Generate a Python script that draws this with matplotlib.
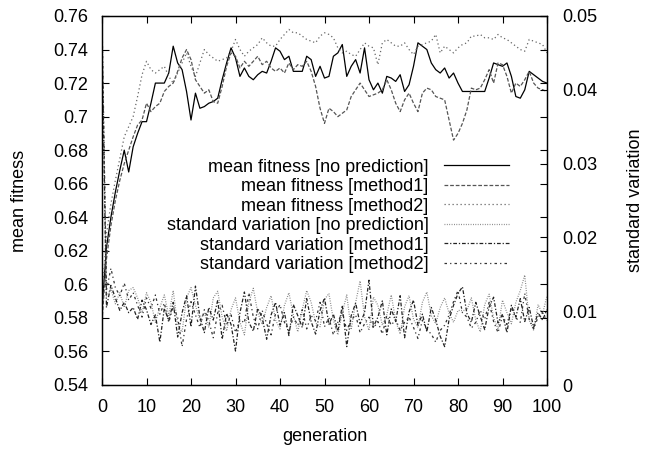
import numpy as np
import matplotlib
matplotlib.use('Agg')
import matplotlib.pyplot as plt

# generations 0..100
generation = np.arange(101)

fit_none = [0.585, 0.622, 0.640, 0.655, 0.668, 0.680, 0.667, 0.682, 0.690, 0.697,
            0.697, 0.708, 0.720, 0.720, 0.720, 0.726, 0.742, 0.732, 0.728, 0.715,
            0.698, 0.714, 0.705, 0.706, 0.708, 0.709, 0.711, 0.722, 0.732, 0.741,
            0.735, 0.724, 0.729, 0.724, 0.722, 0.725, 0.727, 0.726, 0.733, 0.741,
            0.739, 0.734, 0.736, 0.727, 0.727, 0.727, 0.736, 0.734, 0.724, 0.730,
            0.723, 0.724, 0.736, 0.738, 0.743, 0.724, 0.730, 0.734, 0.726, 0.741,
            0.722, 0.716, 0.720, 0.714, 0.724, 0.723, 0.721, 0.725, 0.715, 0.719,
            0.730, 0.744, 0.742, 0.740, 0.732, 0.728, 0.726, 0.729, 0.723, 0.726,
            0.720, 0.715, 0.715, 0.715, 0.715, 0.715, 0.715, 0.723, 0.732, 0.731,
            0.730, 0.732, 0.724, 0.712, 0.711, 0.716, 0.727, 0.725, 0.723, 0.721,
            0.720]

fit_m1 = [0.578, 0.615, 0.635, 0.650, 0.662, 0.672, 0.680, 0.688, 0.695, 0.698,
          0.708, 0.703, 0.706, 0.708, 0.715, 0.718, 0.720, 0.727, 0.735, 0.740,
          0.734, 0.722, 0.718, 0.714, 0.716, 0.709, 0.708, 0.718, 0.730, 0.738,
          0.736, 0.729, 0.733, 0.730, 0.733, 0.736, 0.731, 0.733, 0.729, 0.727,
          0.729, 0.726, 0.732, 0.728, 0.731, 0.730, 0.733, 0.727, 0.718, 0.705,
          0.696, 0.705, 0.703, 0.700, 0.702, 0.704, 0.712, 0.716, 0.720, 0.716,
          0.712, 0.713, 0.714, 0.716, 0.722, 0.716, 0.708, 0.703, 0.710, 0.714,
          0.708, 0.703, 0.714, 0.717, 0.716, 0.712, 0.711, 0.710, 0.698, 0.686,
          0.690, 0.696, 0.704, 0.717, 0.716, 0.717, 0.722, 0.728, 0.720, 0.732,
          0.731, 0.724, 0.714, 0.720, 0.718, 0.722, 0.727, 0.720, 0.717, 0.716,
          0.715]

fit_m2 = [0.590, 0.630, 0.648, 0.662, 0.675, 0.688, 0.694, 0.700, 0.712, 0.725,
          0.733, 0.728, 0.726, 0.728, 0.730, 0.724, 0.720, 0.726, 0.732, 0.738,
          0.730, 0.724, 0.732, 0.740, 0.737, 0.735, 0.733, 0.734, 0.735, 0.739,
          0.746, 0.740, 0.736, 0.739, 0.741, 0.743, 0.747, 0.744, 0.742, 0.742,
          0.746, 0.749, 0.752, 0.750, 0.750, 0.748, 0.746, 0.745, 0.744, 0.748,
          0.750, 0.749, 0.747, 0.741, 0.738, 0.739, 0.737, 0.736, 0.740, 0.744,
          0.742, 0.741, 0.731, 0.744, 0.746, 0.744, 0.742, 0.742, 0.744, 0.740,
          0.737, 0.742, 0.743, 0.744, 0.745, 0.749, 0.738, 0.742, 0.740, 0.738,
          0.741, 0.743, 0.744, 0.748, 0.748, 0.749, 0.747, 0.747, 0.746, 0.749,
          0.747, 0.746, 0.744, 0.742, 0.740, 0.739, 0.746, 0.745, 0.744, 0.743,
          0.738]

std_none = [0.049, 0.0120, 0.0130, 0.0110, 0.0125, 0.0105, 0.0128, 0.0132, 0.0118, 0.0098,
            0.0125, 0.0112, 0.0085, 0.0105, 0.0122, 0.0094, 0.0128, 0.0081, 0.0072, 0.0118,
            0.0132, 0.0108, 0.0088, 0.0098, 0.0078, 0.0118, 0.0127, 0.0092, 0.0073, 0.0102,
            0.0118, 0.0085, 0.0068, 0.0112, 0.0131, 0.0098, 0.0082, 0.0105, 0.0121, 0.0088,
            0.0076, 0.0108, 0.0125, 0.0095, 0.0072, 0.0102, 0.0128, 0.0112, 0.0084, 0.0079,
            0.0116, 0.0124, 0.0088, 0.0068, 0.0098, 0.0122, 0.0075, 0.0112, 0.0141, 0.0092,
            0.0074, 0.0119, 0.0108, 0.0081, 0.0095, 0.0122, 0.0087, 0.0069, 0.0106, 0.0121,
            0.0089, 0.0078, 0.0112, 0.0126, 0.0094, 0.0083, 0.0105, 0.0118, 0.0097, 0.0085,
            0.0101, 0.0101, 0.0101, 0.0118, 0.0088, 0.0072, 0.0109, 0.0123, 0.0091, 0.0076,
            0.0115, 0.0098, 0.0083, 0.0112, 0.0128, 0.0149, 0.0088, 0.0074, 0.0109, 0.0096,
            0.0121]

std_m1 = [0.047, 0.0105, 0.0135, 0.0118, 0.0101, 0.0112, 0.0098, 0.0105, 0.0089, 0.0115,
          0.0102, 0.0082, 0.0095, 0.0058, 0.0104, 0.0087, 0.0112, 0.0065, 0.0098, 0.0121,
          0.0079, 0.0134, 0.0092, 0.0071, 0.0105, 0.0088, 0.0115, 0.0062, 0.0097, 0.0082,
          0.0046, 0.0098, 0.0126, 0.0085, 0.0073, 0.0104, 0.0091, 0.0062, 0.0095, 0.0112,
          0.0081, 0.0098, 0.0067, 0.0109, 0.0094, 0.0078, 0.0117, 0.0086, 0.0069, 0.0101,
          0.0118, 0.0082, 0.0096, 0.0073, 0.0108, 0.0052, 0.0094, 0.0111, 0.0083, 0.0098,
          0.0142, 0.0079, 0.0092, 0.0114, 0.0068, 0.0103, 0.0086, 0.0121, 0.0064, 0.0099,
          0.0115, 0.0081, 0.0096, 0.0072, 0.0105, 0.0088, 0.0066, 0.0052, 0.0089, 0.0108,
          0.0124, 0.0133, 0.0097, 0.0085, 0.0112, 0.0093, 0.0075, 0.0106, 0.0119, 0.0084,
          0.0096, 0.0071, 0.0108, 0.0092, 0.0117, 0.0086, 0.0105, 0.0078, 0.0098, 0.0088,
          0.0102]

std_m2 = [0.050, 0.0128, 0.0158, 0.0132, 0.0121, 0.0138, 0.0115, 0.0125, 0.0108, 0.0092,
          0.0118, 0.0104, 0.0122, 0.0096, 0.0111, 0.0085, 0.0106, 0.0092, 0.0052, 0.0089,
          0.0113, 0.0095, 0.0078, 0.0102, 0.0087, 0.0064, 0.0098, 0.0108, 0.0082, 0.0095,
          0.0071, 0.0089, 0.0084, 0.0125, 0.0092, 0.0076, 0.0101, 0.0083, 0.0068, 0.0097,
          0.0109, 0.0085, 0.0073, 0.0092, 0.0081, 0.0102, 0.0076, 0.0094, 0.0087, 0.0112,
          0.0079, 0.0091, 0.0068, 0.0085, 0.0099, 0.0074, 0.0088, 0.0095, 0.0071, 0.0083,
          0.0092, 0.0077, 0.0086, 0.0069, 0.0094, 0.0081, 0.0089, 0.0074, 0.0085, 0.0092,
          0.0078, 0.0063, 0.0088, 0.0075, 0.0069, 0.0058, 0.0074, 0.0081, 0.0095, 0.0113,
          0.0128, 0.0098, 0.0092, 0.0077, 0.0085, 0.0101, 0.0089, 0.0112, 0.0086, 0.0071,
          0.0094, 0.0082, 0.0105, 0.0091, 0.0085, 0.0124, 0.0089, 0.0076, 0.0092, 0.0098,
          0.0087]

labels = ['mean fitness [no prediction]', 'mean fitness [method1]', 'mean fitness [method2]',
          'standard variation [no prediction]', 'standard variation [method1]',
          'standard variation [method2]']

plt.rcParams['font.family'] = ['Liberation Sans', 'DejaVu Sans']
fs = 13
plt.rc('font', size=fs)

fig = plt.figure(figsize=(6.52, 4.5), dpi=100)
ax = fig.add_axes([102 / 652, 65 / 450, 445 / 652, 369 / 450])
ax2 = ax.twinx()

lw = 0.9
h1, = ax.plot(generation, fit_none, color='black', lw=lw)
h2, = ax.plot(generation, fit_m1, color='#555555', lw=lw, dashes=(3, 1.5))
h3, = ax.plot(generation, fit_m2, color='#666666', lw=lw, dashes=(1, 2.2))
h4, = ax2.plot(generation, std_none, color='#808080', lw=lw, dashes=(0.7, 1.2))
h5, = ax2.plot(generation, std_m1, color='#222222', lw=lw, dashes=(3, 1.5, 1, 1.5))
h6, = ax2.plot(generation, std_m2, color='#333333', lw=lw, dashes=(2, 2.5, 1, 2.5))

ax.set_xlim(0, 100)
ax.set_ylim(0.54, 0.76)
ax2.set_ylim(0, 0.05)
ax.set_xticks(np.arange(0, 101, 10))
ax.set_yticks(np.arange(0.54, 0.7601, 0.02))
ax.set_yticklabels(['0.54', '0.56', '0.58', '0.6', '0.62', '0.64', '0.66', '0.68',
                    '0.7', '0.72', '0.74', '0.76'])
ax2.set_yticks(np.arange(0, 0.0501, 0.01))
ax2.set_yticklabels(['0', '0.01', '0.02', '0.03', '0.04', '0.05'])

ax.tick_params(direction='in', length=5, width=0.8, top=True, right=True, labelsize=fs)
ax.tick_params(axis='y', pad=10)
ax.tick_params(axis='x', pad=10)
ax2.tick_params(direction='in', length=5, width=0.8, labelsize=fs, pad=11)
for a in (ax, ax2):
    for s in a.spines.values():
        s.set_linewidth(0.9)

ax.set_xlabel('generation', fontsize=fs, labelpad=9)
ax.set_ylabel('mean fitness', fontsize=fs, labelpad=18)
ax2.set_ylabel('standard variation', fontsize=fs, labelpad=21)

leg = ax.legend([h1, h2, h3, h4, h5, h6], labels, loc='center right',
                bbox_to_anchor=(0.935, 0.458), frameon=False, markerfirst=False,
                handlelength=3.6, handletextpad=0.85, labelspacing=0.14,
                borderpad=0, fontsize=fs)

fig.savefig('out.png', dpi=100)
